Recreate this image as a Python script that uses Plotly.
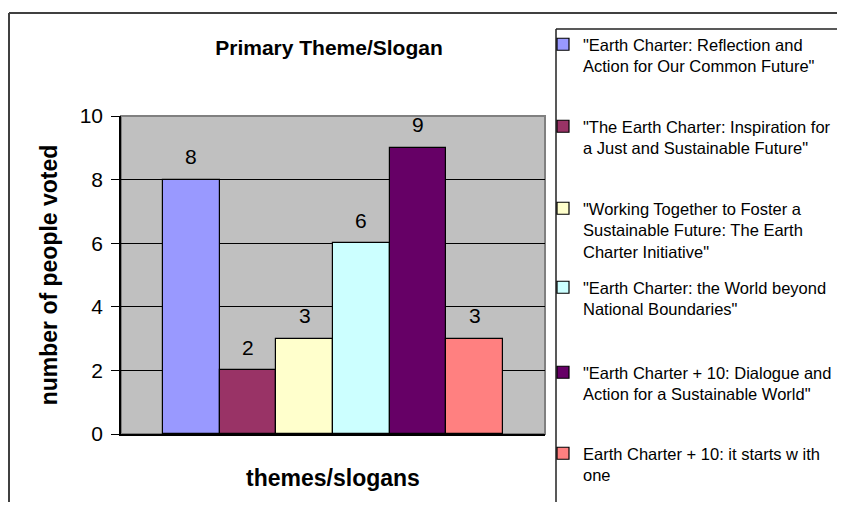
import plotly.graph_objects as go

# data
slogans = [
    '"Earth Charter: Reflection and<br>Action for Our Common Future"',
    '"The Earth Charter: Inspiration for<br>a Just and Sustainable Future"',
    '"Working Together to Foster a<br>Sustainable Future: The Earth<br>Charter Initiative"',
    '"Earth Charter: the World beyond<br>National Boundaries"',
    '"Earth Charter + 10: Dialogue and<br>Action for a Sustainable World"',
    'Earth Charter + 10: it starts w ith<br>one',
]
votes = [8, 2, 3, 6, 9, 3]
colors = ['#9999FF', '#993366', '#FFFFCC', '#CCFFFF', '#660066', '#FF8080']
y_ticks = [0, 2, 4, 6, 8, 10]

FONT = 'Liberation Sans, Arial, sans-serif'
OFF = 8  # page body margin, kept so the page needs no scrollbars
W, H = 845 - 2 * OFF, 510 - 2 * OFF
L, R, T, B = 121, 545, 116, 434  # plot area, in screen pixels


def px_x(p):
    return (p - L) / (R - L)


def px_y(p):
    return (B - p) / (B - T)


def cx(p):
    return (p - OFF) / W


def cy(p):
    return 1 - (p - OFF) / H


fig = go.Figure()

# one trace per slogan so each gets its own legend entry
legend_tops = [45, 127, 209, 288, 373, 454]
for i, (name, v, c) in enumerate(zip(slogans, votes, colors)):
    lg = 'legend' if i == 0 else f'legend{i + 1}'
    fig.add_trace(go.Bar(
        x=[i], y=[v], name=name, width=1,
        marker=dict(color=c, line=dict(color='black', width=1.2)),
        legend=lg,
        hoverinfo='y+name',
    ))
    fig.add_annotation(
        x=i, y=v, text=str(v), showarrow=False,
        yanchor='middle', yshift=23,
        font=dict(family=FONT, size=21, color='black'),
    )

legends = {}
for i, top in enumerate(legend_tops):
    key = 'legend' if i == 0 else f'legend{i + 1}'
    legends[key] = dict(
        x=cx(543), y=cy(top - 18),
        xref='container', yref='container',
        xanchor='left', yanchor='top',
        bgcolor='rgba(0,0,0,0)', borderwidth=0,
        valign='top',
        font=dict(family=FONT, size=16.5, color='black'),
    )

fig.update_layout(
    width=W, height=H,
    margin=dict(l=L - OFF, r=W - (R - OFF), t=T - OFF, b=H - (B - OFF), autoexpand=False),
    paper_bgcolor='white',
    plot_bgcolor='#C0C0C0',
    barmode='overlay',
    bargap=0,
    showlegend=True,
    title=dict(
        text='<b>Primary Theme/Slogan</b>',
        x=cx(329), y=cy(48), xref='container', yref='container',
        xanchor='center', yanchor='middle',
        font=dict(family=FONT, size=21, color='black'),
    ),
    xaxis=dict(
        range=[-1.243, 6.243],
        showticklabels=False, ticks='',
        showgrid=False, zeroline=False, automargin=False,
        showline=True, linecolor='black', linewidth=1.5,
        title=dict(text='<b>themes/slogans</b>', standoff=35,
                   font=dict(family=FONT, size=23, color='black')),
    ),
    yaxis=dict(
        range=[0, 10],
        tickvals=y_ticks,
        ticks='outside', ticklen=8, tickcolor='black', tickwidth=1,
        ticklabelstandoff=4,
        showgrid=True, gridcolor='black', gridwidth=1,
        zeroline=False, automargin=False,
        showline=True, linecolor='black', linewidth=1.5,
        tickfont=dict(family=FONT, size=21, color='black'),
        title=dict(text='<b>number of people voted</b>', standoff=16,
                   font=dict(family=FONT, size=23, color='black')),
    ),
    **legends,
)

# plot area border
fig.add_shape(type='rect', xref='paper', yref='paper', x0=0, x1=1, y0=0, y1=1,
              line=dict(color='#808080', width=2), layer='below')

# chart border and legend box: only top and left edges are in view
for left, top, color, w in [(9, 13, '#404040', 2), (556, 29, '#222222', 1.5)]:
    fig.add_shape(type='line', xref='paper', yref='paper',
                  x0=px_x(left), y0=px_y(top), x1=px_x(900), y1=px_y(top),
                  line=dict(color=color, width=w))
    fig.add_shape(type='line', xref='paper', yref='paper',
                  x0=px_x(left), y0=px_y(top), x1=px_x(left), y1=px_y(560),
                  line=dict(color=color, width=w))

fig.write_html("out.html")
